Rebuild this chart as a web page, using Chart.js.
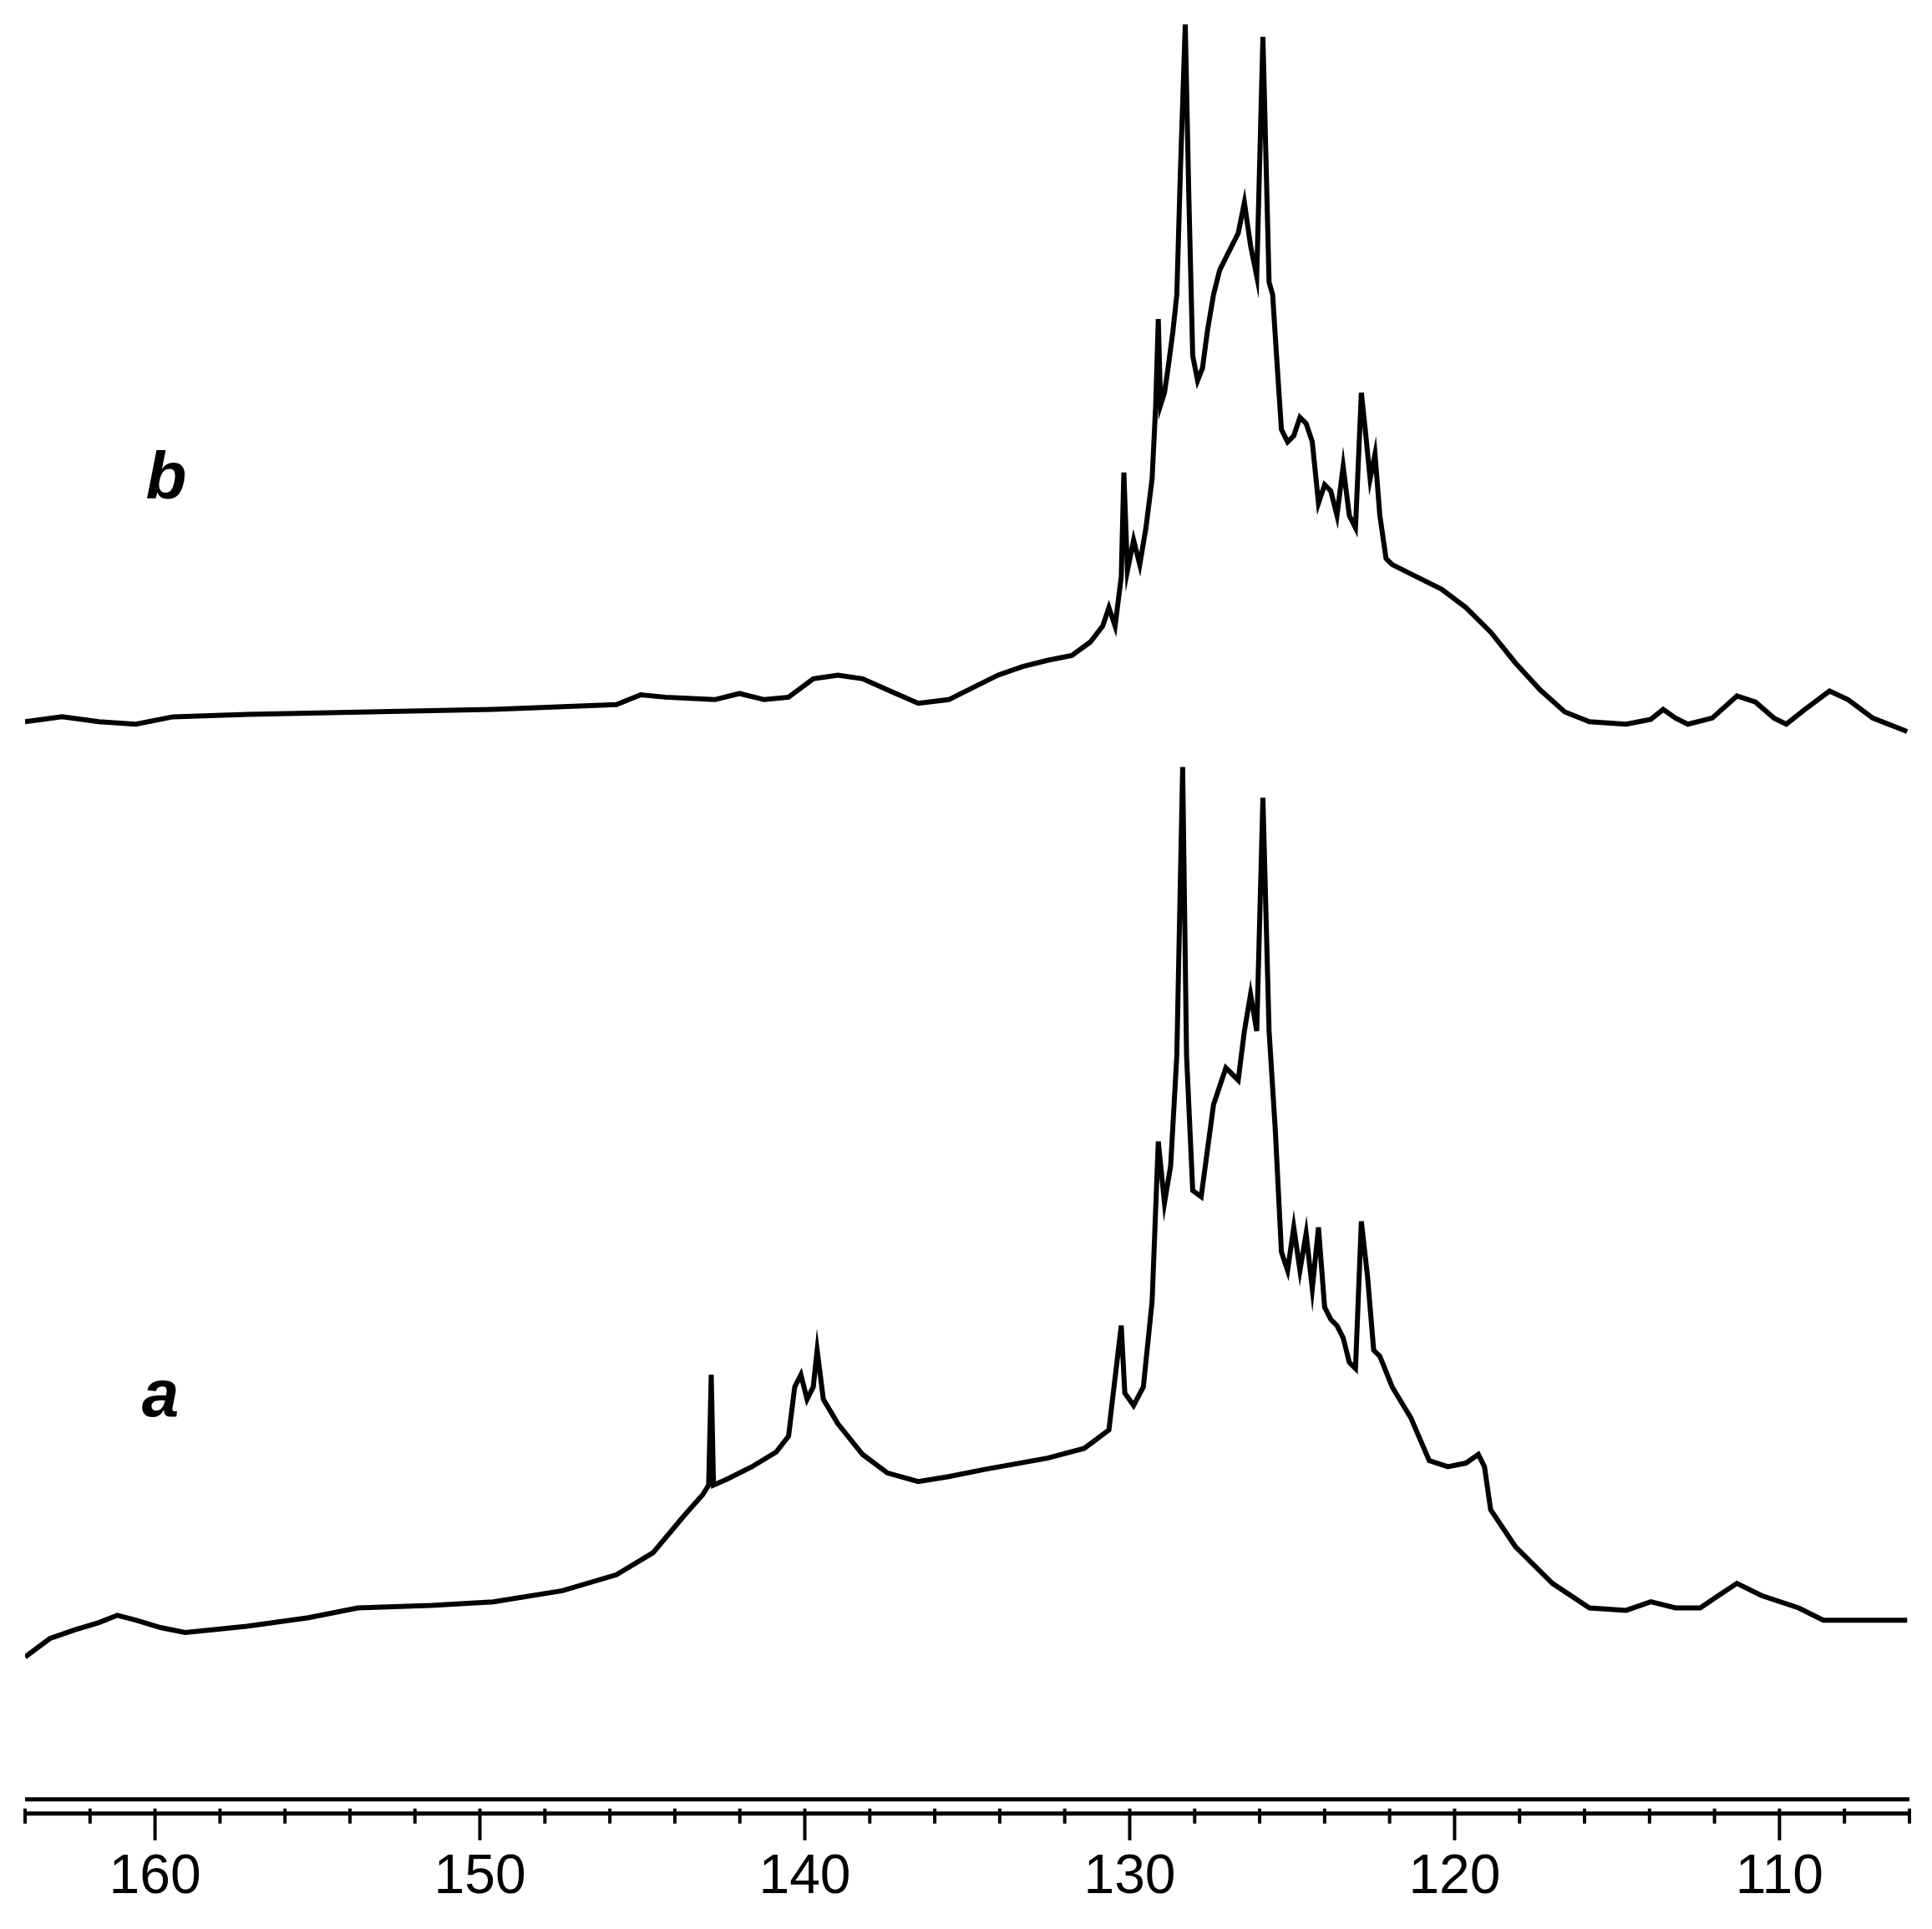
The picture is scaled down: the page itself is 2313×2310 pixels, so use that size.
<!DOCTYPE html>
<html>
<head>
<meta charset="utf-8">
<script src="https://cdn.jsdelivr.net/npm/chart.js@4.4.1/dist/chart.umd.min.js"></script>
<style>
  html, body { margin: 0; padding: 0; background: #fff; }
</style>
</head>
<body>
<canvas id="nmrChart" width="2313" height="2310"></canvas>
<script>
// chemical shift (ppm) and intensity
const shiftB = [164.00,162.86,161.73,160.59,159.45,157.18,153.38,149.59,145.80,145.05,144.29,142.77,142.01,141.25,140.50,139.74,138.98,138.22,137.46,136.51,135.57,134.81,134.05,133.29,132.53,131.78,131.21,130.83,130.64,130.45,130.26,130.18,130.07,129.88,129.69,129.50,129.31,129.20,129.12,129.05,128.93,128.82,128.67,128.55,128.44,128.29,128.18,128.06,127.91,127.76,127.61,127.42,127.23,127.04,126.85,126.66,126.47,126.28,126.09,125.90,125.71,125.60,125.48,125.33,125.14,124.95,124.76,124.57,124.38,124.19,124.00,123.81,123.62,123.43,123.24,123.05,122.87,122.75,122.60,122.45,122.30,122.11,121.92,121.16,120.40,119.65,118.89,118.13,117.37,116.61,115.85,114.72,113.96,113.58,113.20,112.82,112.07,111.31,110.74,110.17,109.79,109.22,108.46,107.89,107.13,106.07];
const intensityB = [878,882,878,876,882,884,886,888,892,900,898,896,901,896,898,913,916,913,904,893,896,906,916,923,928,932,943,956,971,956,996,1081,1001,1026,1006,1036,1076,1136,1206,1136,1146,1166,1196,1226,1326,1446,1306,1176,1156,1166,1196,1226,1246,1256,1266,1276,1301,1266,1241,1436,1236,1226,1176,1116,1106,1111,1126,1121,1106,1056,1071,1066,1046,1086,1046,1036,1146,1116,1076,1096,1046,1011,1006,996,986,971,951,926,904,886,878,876,880,888,881,876,881,899,894,881,876,888,903,896,881,870];

const shiftA = [164.00,163.24,162.48,161.73,161.16,160.59,159.83,159.07,157.18,155.28,153.76,151.49,149.59,147.46,145.80,144.67,143.72,143.15,142.96,142.88,142.81,142.39,141.63,140.88,140.50,140.31,140.12,139.93,139.74,139.62,139.43,138.98,138.22,137.46,136.51,135.57,134.43,132.53,131.40,130.64,130.26,130.15,129.88,129.58,129.31,129.12,128.93,128.74,128.55,128.37,128.25,128.06,127.80,127.42,127.23,127.04,126.66,126.47,126.28,126.09,125.90,125.71,125.52,125.33,125.14,124.95,124.76,124.57,124.38,124.19,124.00,123.81,123.62,123.43,123.24,123.05,122.87,122.68,122.49,122.30,121.92,121.35,120.78,120.21,119.65,119.27,119.08,118.89,118.13,116.99,115.85,114.72,113.96,113.20,112.44,111.88,111.31,110.55,109.41,108.65,107.13,106.07];
const intensityA = [116,131,138,144,150,146,140,136,141,148,156,158,161,170,183,201,231,248,256,346,256,261,271,283,296,336,346,326,336,366,326,306,281,266,259,263,269,278,286,301,386,331,321,336,406,536,486,516,606,841,606,496,491,566,581,596,586,626,656,626,816,626,546,446,431,466,431,461,416,466,401,391,386,376,356,351,471,426,366,361,336,311,276,271,274,281,271,236,206,176,156,154,161,156,156,166,176,166,156,146,146,146];

const majorTicks = [110, 120, 130, 140, 150, 160];
const minorTicks = [106,108,112,114,116,118,122,124,126,128,132,134,136,138,142,144,146,148,152,154,156,158,162,164];
const traceLabels = [{ text: "b", x: 199, y: 575 }, { text: "a", x: 192, y: 1674 }];

function toPoints(xs, ys) {
  return xs.map((x, i) => ({ x: x, y: ys[i] }));
}

const axisPlugin = {
  id: "ppmAxis",
  afterDraw(chart) {
    const ctx = chart.ctx;
    const xs = chart.scales.x;
    const top = chart.chartArea.bottom;
    const base = top + 17;
    const left = xs.getPixelForValue(164);
    const right = xs.getPixelForValue(106);
    ctx.save();
    ctx.strokeStyle = "#000";
    ctx.lineWidth = 5;
    ctx.beginPath();
    ctx.moveTo(left, top); ctx.lineTo(right, top);
    ctx.moveTo(left, base); ctx.lineTo(right, base);
    ctx.stroke();
    ctx.lineWidth = 4;
    ctx.beginPath();
    minorTicks.forEach(v => {
      const p = xs.getPixelForValue(v);
      ctx.moveTo(p, base - 6); ctx.lineTo(p, base + 12);
    });
    majorTicks.forEach(v => {
      const p = xs.getPixelForValue(v);
      ctx.moveTo(p, base - 6); ctx.lineTo(p, base + 32);
    });
    ctx.stroke();
    ctx.fillStyle = "#000";
    ctx.font = "italic bold 80px 'Liberation Sans', Arial, sans-serif";
    ctx.textAlign = "center";
    ctx.textBaseline = "middle";
    traceLabels.forEach(l => ctx.fillText(l.text, l.x, l.y));
    ctx.restore();
  }
};

new Chart(document.getElementById("nmrChart").getContext("2d"), {
  type: "line",
  data: {
    datasets: [
      { label: "b", data: toPoints(shiftB, intensityB) },
      { label: "a", data: toPoints(shiftA, intensityA) }
    ]
  },
  options: {
    responsive: false,
    animation: false,
    devicePixelRatio: 1,
    layout: { padding: { left: 30, right: 27, top: 0, bottom: 0 } },
    elements: {
      line: { borderColor: "#000", borderWidth: 6, tension: 0, borderJoinStyle: "miter" },
      point: { radius: 0 }
    },
    plugins: { legend: { display: false }, tooltip: { enabled: false } },
    scales: {
      x: {
        type: "linear",
        reverse: true,
        min: 106,
        max: 164,
        afterBuildTicks: axis => { axis.ticks = majorTicks.map(v => ({ value: v })); },
        grid: { display: true, drawOnChartArea: false, color: "rgba(0,0,0,0)", tickLength: 32 },
        border: { display: false },
        ticks: {
          color: "#000",
          padding: 22,
          maxRotation: 0,
          font: { family: "'Liberation Sans', Arial, sans-serif", size: 66 }
        }
      },
      y: {
        display: false,
        min: 0,
        max: 1466
      }
    }
  },
  plugins: [axisPlugin]
});
</script>
</body>
</html>
